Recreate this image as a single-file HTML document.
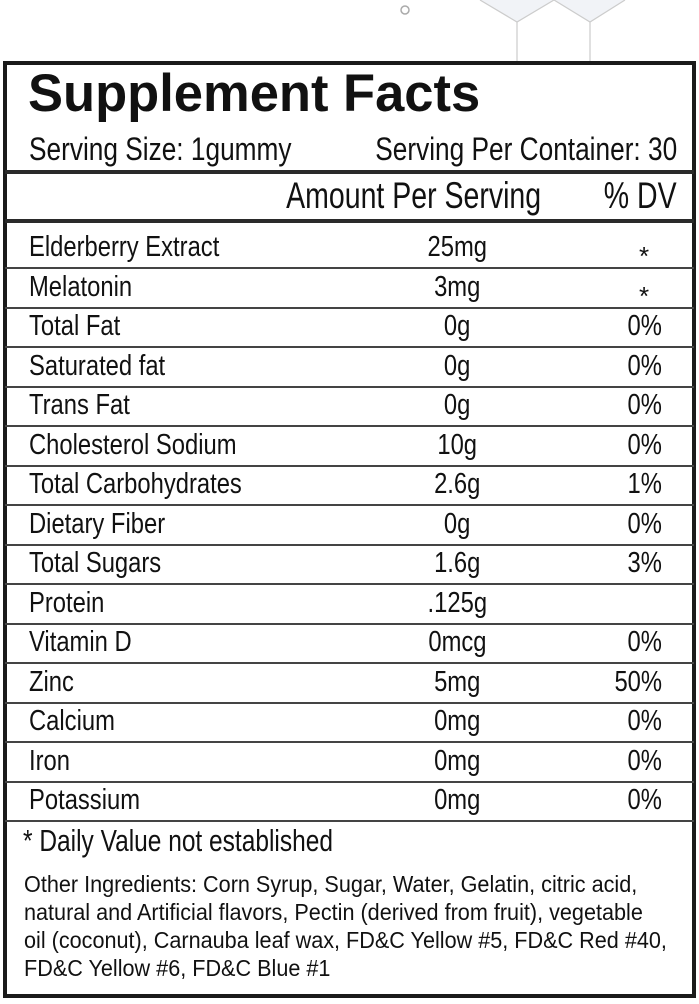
<!DOCTYPE html>
<html><head><meta charset="utf-8"><style>
body{margin:0;width:699px;height:1004px;background:#fff;position:relative;overflow:hidden;font-family:"Liberation Sans",sans-serif;color:#111}
.a{position:absolute;white-space:nowrap}
.c{transform:scaleX(0.82);display:inline-block}
.l{transform-origin:left center}
.r{transform-origin:right center}
.m{transform-origin:center center}
.hl{position:absolute;left:5px;width:689px;background:#444}
.row{position:absolute;left:0;width:699px;height:39px;font-size:29px;line-height:39px}
.st{position:absolute;left:639px;top:9px;font-size:26px}
</style></head><body>
<svg class="a" style="left:390px;top:0" width="260" height="65">
<circle cx="15" cy="10" r="4" fill="none" stroke="#aaa" stroke-width="1.5"/>
<path d="M90 0 L127 22 L164 0 L200 22 L235 0" fill="#f1f3f7" stroke="#ccc" stroke-width="1.2"/>
<line x1="127" y1="22" x2="127" y2="62" stroke="#ccc" stroke-width="1.2"/>
<line x1="200" y1="22" x2="200" y2="62" stroke="#ccc" stroke-width="1.2"/>
</svg>
<div class="a" style="left:3px;top:61px;width:685px;height:929px;border:4px solid #1a1a1a"></div>
<div class="a" style="left:28px;top:66px;font-size:52.5px;font-weight:bold;line-height:56px;color:#111">Supplement Facts</div>
<div class="a" style="left:29px;top:130px;font-size:32px;line-height:38px"><span class="c l">Serving Size: 1gummy</span></div>
<div class="a" style="right:22px;top:130px;font-size:32px;line-height:38px"><span class="c r">Serving Per Container: 30</span></div>
<div class="hl" style="top:170px;height:4px;background:#2a2a2a"></div>
<div class="a" style="right:158px;top:175px;font-size:37px;line-height:42px"><span class="c r" style="transform:scaleX(0.77)">Amount Per Serving</span></div>
<div class="a" style="right:22px;top:175px;font-size:37px;line-height:42px"><span class="c r" style="transform:scaleX(0.77)">% DV</span></div>
<div class="hl" style="top:219px;height:4px;background:#2a2a2a"></div>

<div class="row" style="top:228px"><span class="a" style="left:29px"><span class="c l">Elderberry Extract</span></span><span class="a" style="left:357px;width:200px;text-align:center"><span class="c m">25mg</span></span><span class="st">*</span></div>
<div class="hl" style="top:267px;height:2px"></div>
<div class="row" style="top:268px"><span class="a" style="left:29px"><span class="c l">Melatonin</span></span><span class="a" style="left:357px;width:200px;text-align:center"><span class="c m">3mg</span></span><span class="st">*</span></div>
<div class="hl" style="top:307px;height:2px"></div>
<div class="row" style="top:307px"><span class="a" style="left:29px"><span class="c l">Total Fat</span></span><span class="a" style="left:357px;width:200px;text-align:center"><span class="c m">0g</span></span><span class="a" style="right:37px"><span class="c r">0%</span></span></div>
<div class="hl" style="top:346px;height:2px"></div>
<div class="row" style="top:347px"><span class="a" style="left:29px"><span class="c l">Saturated fat</span></span><span class="a" style="left:357px;width:200px;text-align:center"><span class="c m">0g</span></span><span class="a" style="right:37px"><span class="c r">0%</span></span></div>
<div class="hl" style="top:386px;height:2px"></div>
<div class="row" style="top:386px"><span class="a" style="left:29px"><span class="c l">Trans Fat</span></span><span class="a" style="left:357px;width:200px;text-align:center"><span class="c m">0g</span></span><span class="a" style="right:37px"><span class="c r">0%</span></span></div>
<div class="hl" style="top:425px;height:2px"></div>
<div class="row" style="top:426px"><span class="a" style="left:29px"><span class="c l">Cholesterol Sodium</span></span><span class="a" style="left:357px;width:200px;text-align:center"><span class="c m">10g</span></span><span class="a" style="right:37px"><span class="c r">0%</span></span></div>
<div class="hl" style="top:465px;height:2px"></div>
<div class="row" style="top:465px"><span class="a" style="left:29px"><span class="c l">Total Carbohydrates</span></span><span class="a" style="left:357px;width:200px;text-align:center"><span class="c m">2.6g</span></span><span class="a" style="right:37px"><span class="c r">1%</span></span></div>
<div class="hl" style="top:504px;height:2px"></div>
<div class="row" style="top:505px"><span class="a" style="left:29px"><span class="c l">Dietary Fiber</span></span><span class="a" style="left:357px;width:200px;text-align:center"><span class="c m">0g</span></span><span class="a" style="right:37px"><span class="c r">0%</span></span></div>
<div class="hl" style="top:544px;height:2px"></div>
<div class="row" style="top:544px"><span class="a" style="left:29px"><span class="c l">Total Sugars</span></span><span class="a" style="left:357px;width:200px;text-align:center"><span class="c m">1.6g</span></span><span class="a" style="right:37px"><span class="c r">3%</span></span></div>
<div class="hl" style="top:583px;height:2px"></div>
<div class="row" style="top:584px"><span class="a" style="left:29px"><span class="c l">Protein</span></span><span class="a" style="left:357px;width:200px;text-align:center"><span class="c m">.125g</span></span></div>
<div class="hl" style="top:623px;height:2px"></div>
<div class="row" style="top:623px"><span class="a" style="left:29px"><span class="c l">Vitamin D</span></span><span class="a" style="left:357px;width:200px;text-align:center"><span class="c m">0mcg</span></span><span class="a" style="right:37px"><span class="c r">0%</span></span></div>
<div class="hl" style="top:662px;height:2px"></div>
<div class="row" style="top:663px"><span class="a" style="left:29px"><span class="c l">Zinc</span></span><span class="a" style="left:357px;width:200px;text-align:center"><span class="c m">5mg</span></span><span class="a" style="right:37px"><span class="c r">50%</span></span></div>
<div class="hl" style="top:702px;height:2px"></div>
<div class="row" style="top:702px"><span class="a" style="left:29px"><span class="c l">Calcium</span></span><span class="a" style="left:357px;width:200px;text-align:center"><span class="c m">0mg</span></span><span class="a" style="right:37px"><span class="c r">0%</span></span></div>
<div class="hl" style="top:741px;height:2px"></div>
<div class="row" style="top:742px"><span class="a" style="left:29px"><span class="c l">Iron</span></span><span class="a" style="left:357px;width:200px;text-align:center"><span class="c m">0mg</span></span><span class="a" style="right:37px"><span class="c r">0%</span></span></div>
<div class="hl" style="top:781px;height:2px"></div>
<div class="row" style="top:781px"><span class="a" style="left:29px"><span class="c l">Potassium</span></span><span class="a" style="left:357px;width:200px;text-align:center"><span class="c m">0mg</span></span><span class="a" style="right:37px"><span class="c r">0%</span></span></div>
<div class="hl" style="top:820px;height:2px"></div>
<div class="a" style="left:23px;top:822px;font-size:31px;line-height:38px"><span class="c l" style="transform:scaleX(0.79)">* Daily Value not established</span></div>
<div class="a" style="left:24px;top:870px;font-size:23.5px;line-height:28px"><span class="c l" style="transform:scaleX(0.92)">Other Ingredients: Corn Syrup, Sugar, Water, Gelatin, citric acid,<br>natural and Artificial flavors, Pectin (derived from fruit), vegetable<br>oil (coconut), Carnauba leaf wax, FD&amp;C Yellow #5, FD&amp;C Red #40,<br>FD&amp;C Yellow #6, FD&amp;C Blue #1</span></div>
</body></html>
